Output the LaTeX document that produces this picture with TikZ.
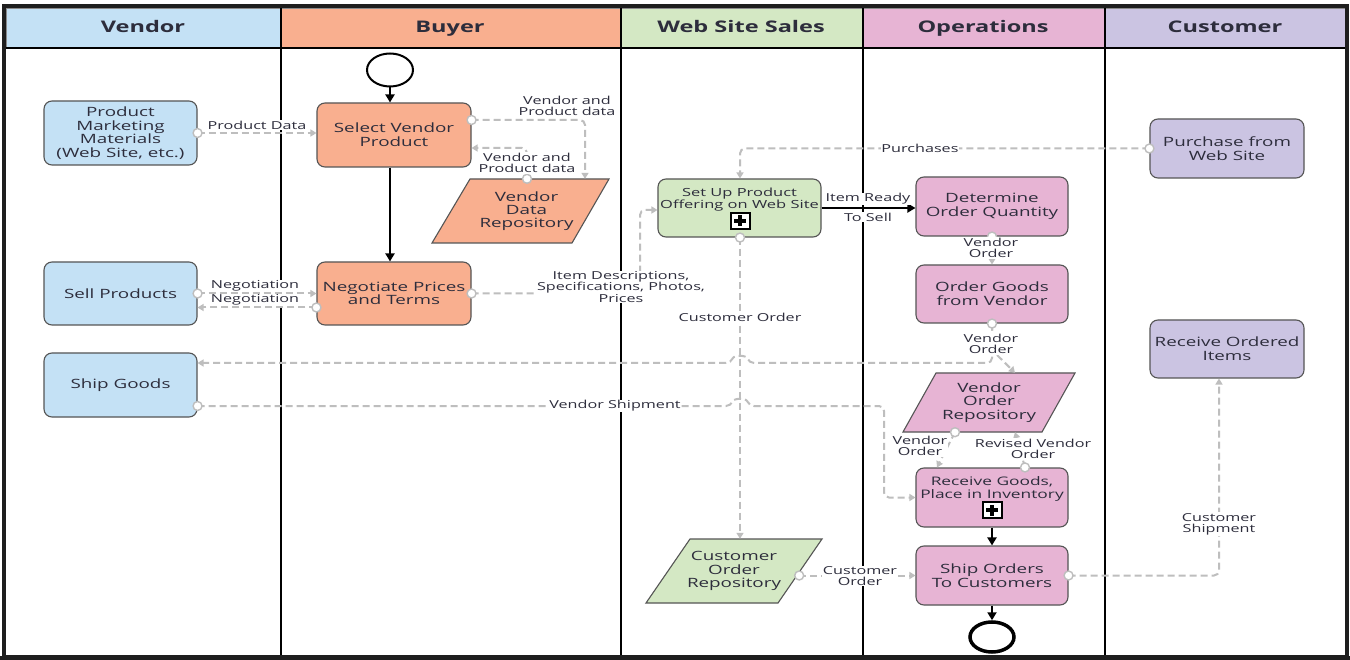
\documentclass[tikz,border=0pt]{standalone}
\usepackage{fontspec}
\setmainfont{Open Sans}[FakeStretch=1.47]
\usetikzlibrary{arrows.meta,shapes.geometric,calc}
\definecolor{cblue}{HTML}{C4E1F5}
\definecolor{csalmon}{HTML}{F9AF8F}
\definecolor{cgreen}{HTML}{D4E8C4}
\definecolor{cpink}{HTML}{E7B4D4}
\definecolor{clav}{HTML}{CBC4E2}
\definecolor{bord}{HTML}{555555}
\definecolor{hbord}{HTML}{8A8A8A}
\definecolor{lgray}{HTML}{BEBEBE}
\definecolor{txt}{HTML}{2D2D3C}
\definecolor{framec}{HTML}{1E1E1E}
\begin{document}
\begin{tikzpicture}[x=1pt,y=-1pt,
 task/.style={rectangle, rounded corners=8pt, draw=bord, line width=1.1pt, align=center, text=txt, font=\fontsize{12.8}{13.6}\selectfont, inner sep=1pt},
 ptext/.style={rectangle, draw=none, align=center, text=txt, font=\fontsize{12.8}{13.2}\selectfont, inner sep=0pt},
 para/.style={draw=bord, line width=1.1pt},
 hdr/.style={rectangle, draw=hbord, line width=0.8pt, text=txt, font=\fontsize{16}{18}\selectfont\bfseries, text height=11.5pt, text depth=0.5pt},
 flow/.style={draw=lgray, line width=2pt, dash pattern=on 7pt off 4pt, -{Triangle[width=7pt,length=6pt]}, rounded corners=5pt},
 blk/.style={draw=black, line width=2.2pt, -{Triangle[width=9pt,length=8pt]}},
 dotc/.style={circle, draw=lgray, fill=white, solid, line width=1.4pt, minimum size=9pt, inner sep=0pt},
 lbl/.style={fill=white, inner sep=0.8pt, text=txt, font=\fontsize{11}{11.3}\selectfont, align=center},
 lane/.style={draw=black, line width=2pt},
 evt/.style={ellipse, draw=black, fill=white, minimum width=46pt, minimum height=33pt, inner sep=0pt},
 plusbox/.style={draw=black, fill=white, line width=2pt, minimum width=19pt, minimum height=16pt, inner sep=0pt,
   path picture={
     \fill[black] ($(path picture bounding box.center)+(-6,-2)$) rectangle ($(path picture bounding box.center)+(6,2)$);
     \fill[black] ($(path picture bounding box.center)+(-2,-5.5)$) rectangle ($(path picture bounding box.center)+(2,5.5)$);}}
]
\useasboundingbox (0,0) rectangle (1350,660);
\fill[white] (0,0) rectangle (1350,660);

% headers
\node[hdr, fill=cblue, minimum width=274pt, minimum height=39pt] (hv) at (143,27.5) {Vendor};
\node[hdr, fill=csalmon, minimum width=340pt, minimum height=39pt] (hb) at (450,27.5) {Buyer};
\node[hdr, fill=cgreen, minimum width=242pt, minimum height=39pt] (hw) at (741,27.5) {Web Site Sales};
\node[hdr, fill=cpink, minimum width=242pt, minimum height=39pt] (ho) at (983,27.5) {Operations};
\node[hdr, fill=clav, minimum width=242pt, minimum height=39pt] (hc) at (1225,27.5) {Customer};

% lanes
\draw[lane] (280.5,8) -- (280.5,655);
\draw[lane] (620.5,8) -- (620.5,655);
\draw[lane] (862.5,8) -- (862.5,655);
\draw[lane] (1104.5,8) -- (1104.5,655);
\draw[lane] (6,48) -- (1346,48);
\draw[line width=4pt, framec] (4,6) rectangle (1347,657);
\fill[framec] (0,656) rectangle (1350,660);

% parallelograms
\filldraw[para, fill=csalmon] (470,179) -- (609,179) -- (572,243) -- (432,243) -- cycle;
\node[ptext, minimum width=177pt, minimum height=64pt] (vdr) at (520.5,211) {\hspace*{12pt}Vendor\\\hspace*{12pt}Data\\\hspace*{12pt}Repository};
\filldraw[para, fill=cpink] (936,373) -- (1075,373) -- (1042,432) -- (903,432) -- cycle;
\node[ptext, minimum width=172pt, minimum height=59pt] (vor) at (989,402.5) {Vendor\\Order\\Repository};
\filldraw[para, fill=cgreen] (690,539) -- (822,539) -- (778,603) -- (646,603) -- cycle;
\node[ptext, minimum width=176pt, minimum height=64pt] (cor) at (734,571) {Customer\\Order\\Repository};

% tasks
\node[task, fill=cblue, minimum width=153pt, minimum height=64pt] (pmm) at (120.5,133) {Product\\Marketing\\Materials\\(Web Site, etc.)};
\node[task, fill=csalmon, minimum width=154pt, minimum height=64pt] (sel) at (394,135) {Select Vendor\\Product};
\node[task, fill=cblue, minimum width=153pt, minimum height=63pt] (sp) at (120.5,293.5) {Sell Products};
\node[task, fill=csalmon, minimum width=154pt, minimum height=63pt] (neg) at (394,293.5) {Negotiate Prices\\and Terms};
\node[task, fill=cblue, minimum width=153pt, minimum height=64pt] (sg) at (120.5,385) {Ship Goods};
\node[task, fill=cgreen, minimum width=163pt, minimum height=58pt, font=\fontsize{11.2}{12.2}\selectfont] (setup) at (739.5,208) {Set Up Product\\Offering on Web Site\\[-2pt]\rule{0pt}{18pt}};
\node[plusbox] (pb1) at (740,221) {};
\node[task, fill=cpink, minimum width=152pt, minimum height=59pt] (doq) at (992,206.5) {Determine\\Order Quantity};
\node[task, fill=cpink, minimum width=152pt, minimum height=58pt] (ogv) at (992,294) {Order Goods\\from Vendor};
\node[task, fill=cpink, minimum width=152pt, minimum height=59pt, font=\fontsize{11.8}{13}\selectfont] (rg) at (992,497.5) {Receive Goods,\\Place in Inventory\\[-2pt]\rule{0pt}{18pt}};
\node[plusbox] (pb2) at (992,510) {};
\node[task, fill=cpink, minimum width=152pt, minimum height=59pt] (so) at (992,575.5) {Ship Orders\\To Customers};
\node[task, fill=clav, minimum width=154pt, minimum height=59pt] (pws) at (1227,148.5) {Purchase from\\Web Site};
\node[task, fill=clav, minimum width=154pt, minimum height=58pt] (roi) at (1227,349) {Receive Ordered\\Items};
\node[evt, line width=2pt] (start) at (390,70) {};
\node[evt, line width=3.5pt, minimum width=44pt, minimum height=30pt] (end) at (992,637) {};

% solid flows
\draw[blk] (start.south) -- (start.south |- sel.north);
\draw[blk, line width=2.6pt] ($(sel.south)+(-4,0)$) -- ($(neg.north)+(-4,0)$);
\draw[blk] (setup.east) -- (setup.east -| doq.west);
\draw[blk] (rg.south) -- (so.north);
\draw[blk] (so.south) -- (end.north);

% dashed flows
\draw[flow] (pmm.east) node[dotc]{} -- (pmm.east -| sel.west);
\draw[flow] ($(sel.east)+(0,-15)$) node[dotc]{} -- (585,120) -- ($(vdr.north)+(64.5,0)$);
\draw[flow] ($(vdr.north)+(6.5,0)$) node[dotc]{} -- (527,148) -- ($(sel.east)+(0,13)$);
\draw[flow] (sp.east) node[dotc]{} -- (sp.east -| neg.west);
\draw[flow] ($(neg.west)+(0,14)$) node[dotc]{} -- ($(sp.east)+(0,14)$);
\draw[flow] (neg.east) node[dotc]{} -- (640,293.5) -- (640,210) -- ($(setup.west)+(0,2)$);
\draw[flow] (pws.west) node[dotc]{} -- (740,148.5) -- ($(setup.north)+(0.5,0)$);
\draw[flow] ($(setup.south)+(0.5,0)$) node[dotc]{} -- ($(cor.north)+(6,0)$);
\draw[flow] ($(cor.east)+(-23,4.5)$) node[dotc]{} -- (so.west);
\draw[flow] (doq.south) node[dotc]{} -- (ogv.north);
\draw[flow] (ogv.south) -- (992,363) -- (749,363) .. controls (746,355) and (734,355) .. (731,363) -- ($(sg.east)+(0,-22)$);
\draw[flow] (ogv.south) node[dotc]{} -- (992,350) -- ($(vor.north)+(26,0)$);
\draw[flow] ($(sg.east)+(0,21)$) node[dotc]{} -- (731,406) .. controls (734,398) and (746,398) .. (749,406) -- (884,406) -- (884,497.5) -- (rg.west);
\draw[flow] ($(vor.south)+(-34,0)$) node[dotc]{} -- ($(rg.north)+(-55,0)$);
\draw[flow] ($(rg.north)+(33,0)$) node[dotc]{} -- ($(vor.south)+(26,0)$);
\draw[flow] (so.east) node[dotc]{} -- (1219,575.5) -- ($(roi.south)+(-8,0)$);

% labels
\node[lbl] (l1) at (257,125) {Product Data};
\node[lbl] (l2) at (567,106) {Vendor and\\Product data};
\node[lbl] (l3) at (527,163) {Vendor and\\Product data};
\node[lbl] (l4) at (255,286) {Negotiation};
\node[lbl] (l5) at (255,300) {Negotiation};
\node[lbl] (l6) at (621,287) {Item Descriptions,\\Specifications, Photos,\\Prices};
\node[lbl] (l7) at (868,199) {Item Ready};
\node[lbl] (l8) at (868,217) {To Sell};
\node[lbl] (l9) at (920,148.5) {Purchases};
\node[lbl] (l10) at (740,317) {Customer Order};
\node[lbl] (l11) at (991,248) {Vendor\\Order};
\node[lbl] (l12) at (991,344) {Vendor\\Order};
\node[lbl] (l13) at (615,406) {Vendor Shipment};
\node[lbl] (l14) at (920,446) {Vendor\\Order};
\node[lbl] (l15) at (1033,449) {Revised Vendor\\Order};
\node[lbl] (l16) at (860,576) {Customer\\Order};
\node[lbl] (l17) at (1219,524) {Customer\\Shipment};
\end{tikzpicture}
\end{document}
